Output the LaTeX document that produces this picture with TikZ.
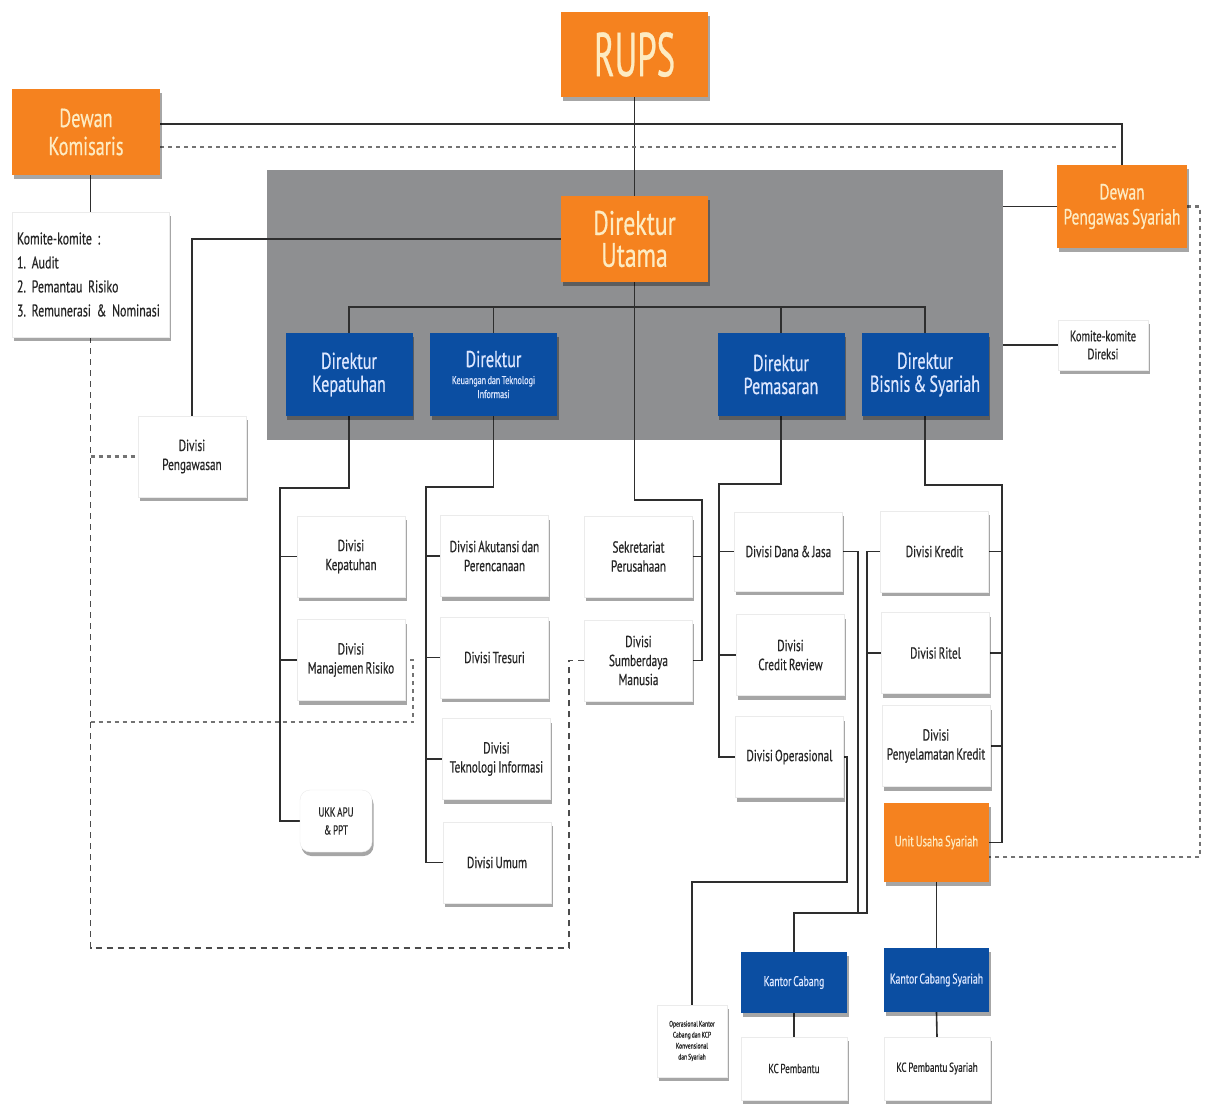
\documentclass[tikz,border=0pt]{standalone}
\usepackage{fontspec}
\usepackage{graphicx}
\setmainfont[FakeStretch=0.7,WordSpace=0.7,FakeBold=0.5]{PT Sans}
\frenchspacing
\usetikzlibrary{shadows}
\definecolor{org}{HTML}{F5821F}
\definecolor{blu}{HTML}{0B4EA2}
\definecolor{gry}{HTML}{8E8F91}
\definecolor{ln}{HTML}{2E2E2E}
\definecolor{otx}{HTML}{FDEBC2}
\definecolor{btx}{HTML}{DDE7FF}
\definecolor{wtx}{HTML}{262626}
\pgfdeclarelayer{bg}
\pgfdeclarelayer{lns}
\pgfsetlayers{bg,lns,main}
\newcommand\smallk{\fontsize{11.5}{13}\selectfont}
\begin{document}
\begin{tikzpicture}[x=1pt,y=-1pt,
 shad/.style={drop shadow={shadow xshift=1.5pt,shadow yshift=-4pt,opacity=.35,fill=black}},
 base/.style={rectangle,inner sep=0pt,align=center,shad},
 obox/.style={base,fill=org,text=otx},
 bbox/.style={base,fill=blu,text=btx},
 wbox/.style={base,fill=white,draw=black!8,text=wtx,font=\fontsize{16}{19}\selectfont},
 conn/.style={draw=ln,line width=1.6pt},
 dotl/.style={draw=black!55,line width=2.6pt,dash pattern=on 4pt off 4pt},
 dashl/.style={draw=black!70,line width=1.4pt,dash pattern=on 6pt off 5pt},
 sz/.style 2 args={minimum width=#1pt,minimum height=#2pt}
]
\useasboundingbox (0,0) rectangle (1205,1104);
\begin{pgfonlayer}{bg}
\fill[white] (0,0) rectangle (1205,1104);
\fill[gry] (267,170) rectangle (1003,440);
\end{pgfonlayer}

% top level
\node[obox,sz={147}{85},font=\fontsize{62}{62}\selectfont] (rups) at (634.5,54.5) {\scalebox{0.8}[1]{RUPS}};
\node[obox,sz={148}{86},font=\fontsize{26}{28}\selectfont] (dk) at (86,132) {Dewan\\Komisaris};
\node[obox,sz={147}{86},font=\fontsize{34}{32}\selectfont] (du) at (634.5,239) {Direktur\\Utama};
\node[obox,sz={130}{83},font=\fontsize{22}{25}\selectfont] (dps) at (1122,206.5) {Dewan\\Pengawas Syariah};
\node[wbox,sz={157}{125},font=\fontsize{17}{24}\selectfont,align=left,text width=147pt] (kom) at (90.5,274.5) {Komite-komite :\\1. Audit\\2. Pemantau Risiko\\3. Remunerasi \& Nominasi};
\node[wbox,sz={108}{81}] (peng) at (192,456.5) {Divisi\\Pengawasan};
\node[wbox,sz={90}{50},font=\fontsize{15}{18}\selectfont] (kd) at (1103,345) {Komite-komite\\Direksi};

% directors
\node[bbox,sz={127}{83},font=\fontsize{23}{23}\selectfont] (d1) at (349,374.5) {Direktur\\Kepatuhan};
\node[bbox,sz={127}{83},font=\fontsize{23}{23}\selectfont] (d2) at (493.5,374.5) {Direktur\\[-6pt]{\smallk Keuangan dan Teknologi}\\[-9pt]{\smallk Informasi}};
\node[bbox,sz={127}{83},font=\fontsize{23}{23}\selectfont] (d3) at (781,374.5) {Direktur\\Pemasaran};
\node[bbox,sz={127}{83},font=\fontsize{23}{23}\selectfont] (d4) at (925,374.5) {Direktur\\Bisnis \& Syariah};

% divisions
\node[wbox,sz={108}{81}] (dkep) at (351,556.5) {Divisi\\Kepatuhan};
\node[wbox,sz={108}{81}] (dmr) at (351,660) {Divisi\\Manajemen Risiko};
\node[wbox,sz={72}{62},rounded corners=10pt,font=\fontsize{13}{18}\selectfont] (ukk) at (336,821) {UKK APU\\\& PPT};
\node[wbox,sz={108}{81}] (dak) at (494.5,556) {Divisi Akutansi dan\\Perencanaan};
\node[wbox,sz={108}{81}] (dtre) at (494.5,657.5) {Divisi Tresuri};
\node[wbox,sz={108}{81}] (dti) at (496.5,759) {Divisi\\Teknologi Informasi};
\node[wbox,sz={108}{81}] (dum) at (497,862.5) {Divisi Umum};
\node[wbox,sz={108}{81}] (sek) at (638.5,556.5) {Sekretariat\\Perusahaan};
\node[wbox,sz={108}{81}] (sdm) at (638.5,660.5) {Divisi\\Sumberdaya\\Manusia};
\node[wbox,sz={108}{79}] (dana) at (788.5,551.5) {Divisi Dana \& Jasa};
\node[wbox,sz={108}{81}] (cr) at (790.5,655) {Divisi\\Credit Review};
\node[wbox,sz={108}{81}] (ops) at (789.5,757) {Divisi Operasional};
\node[wbox,sz={108}{81}] (kre) at (934.5,551.5) {Divisi Kredit};
\node[wbox,sz={108}{81}] (rit) at (935.5,653) {Divisi Ritel};
\node[wbox,sz={108}{81}] (pen) at (936,746) {Divisi\\Penyelamatan Kredit};
\node[obox,sz={105}{79},font=\fontsize{15}{18}\selectfont] (uus) at (936.5,842.5) {Unit Usaha Syariah};

% branches
\node[bbox,sz={106}{61},font=\fontsize{14}{17}\selectfont] (kc) at (794,982.5) {Kantor Cabang};
\node[bbox,sz={105}{64},font=\fontsize{14}{17}\selectfont] (kcs) at (936.5,980) {Kantor Cabang Syariah};
\node[wbox,sz={106}{63},font=\fontsize{13}{16}\selectfont] (kcp) at (794,1068.5) {KC Pembantu};
\node[wbox,sz={106}{63},font=\fontsize{13}{16}\selectfont] (kcps) at (937,1068.5) {KC Pembantu Syariah};
\node[wbox,sz={70}{72},font=\fontsize{8}{11}\selectfont] (opk) at (692,1041) {Operasional Kantor\\Cabang dan KCP\\Konvensional\\dan Syariah};

% named coordinates
\coordinate (dotend) at (1120,147);
\coordinate (gr1) at (1003,206.5);
\coordinate (gr2) at (1003,345);
\coordinate (bus) at (634.5,307);

\begin{pgfonlayer}{lns}
\draw[conn] ([yshift=8pt]dk.east) -| (dps.north);
\draw[conn] (rups.south) -- (du.north);
\draw[dotl] ([yshift=-15pt]dk.east) -- (dotend);
\draw[conn] (gr1) -- (dps.west);
\draw[conn] (gr2) -- (kd.west);
\draw[dotl] (dps.east) -- (1200,206.5) -- (1200,857) -- ([yshift=-14.5pt]uus.east);
\draw[conn] (kom.north |- dk.south) -- (kom.north);
\draw[dashl] (kom.south) -- (90.5,948) -- (569,948) -- (569,660.5) -- (sdm.west);
\draw[dotl] (90.5,456.5) -- (peng.west);
\draw[dotl] (90.5,722) -- (413,722) -- (413,660) -- (dmr.east);
\draw[conn] (du.west) -| (peng.north);
% director bus
\draw[conn] (d1.north) |- (bus) -| (d4.north);
\draw[conn] (d2.north) -- (d2.north |- bus);
\draw[conn] (d3.north) -- (d3.north |- bus);
% sekretariat / SDM
\draw[conn] (du.south) -- (634.5,500) -- (702,500) -- (702,660.5) -- (sdm.east);
\draw[conn] (702,556.5) -- (sek.east);
% kepatuhan
\draw[conn] (d1.south) -- (349,488) -- (280,488) -- (280,821) -- (ukk.west);
\draw[conn] (280,556.5) -- (dkep.west);
\draw[conn] (280,660) -- (dmr.west);
% keuangan
\draw[conn] (d2.south) -- (493.5,487) -- (426,487) -- (426,862.5) -- (dum.west);
\draw[conn] (426,556) -- (dak.west);
\draw[conn] (426,657.5) -- (dtre.west);
\draw[conn] (426,759) -- (dti.west);
% pemasaran
\draw[conn] (d3.south) -- (781,484) -- (719,484) -- (719,757) -- (ops.west);
\draw[conn] (719,551.5) -- (dana.west);
\draw[conn] (719,655) -- (cr.west);
% bisnis
\draw[conn] (d4.south) -- (925,485) -- (1002,485) -- (1002,842.5) -- (uus.east);
\draw[conn] (1002,551.5) -- (kre.east);
\draw[conn] (1002,653) -- (rit.east);
\draw[conn] (1002,746) -- (pen.east);
% kantor cabang feeds
\draw[conn] (dana.east) -- (858,551.5) -- (858,913);
\draw[conn] (kre.west) -- (867,551.5) -- (867,913) -| (kc.north);
\draw[conn] (rit.west) -- (867,653);
\draw[conn] (ops.east) -- (847,757) -- (847,882) -| (opk.north);
\draw[conn] (uus.south) -- (kcs.north);
\draw[conn] (kcs.south) -- (kcps.north);
\draw[conn] (kc.south) -- (kcp.north);
\end{pgfonlayer}
\end{tikzpicture}
\end{document}
